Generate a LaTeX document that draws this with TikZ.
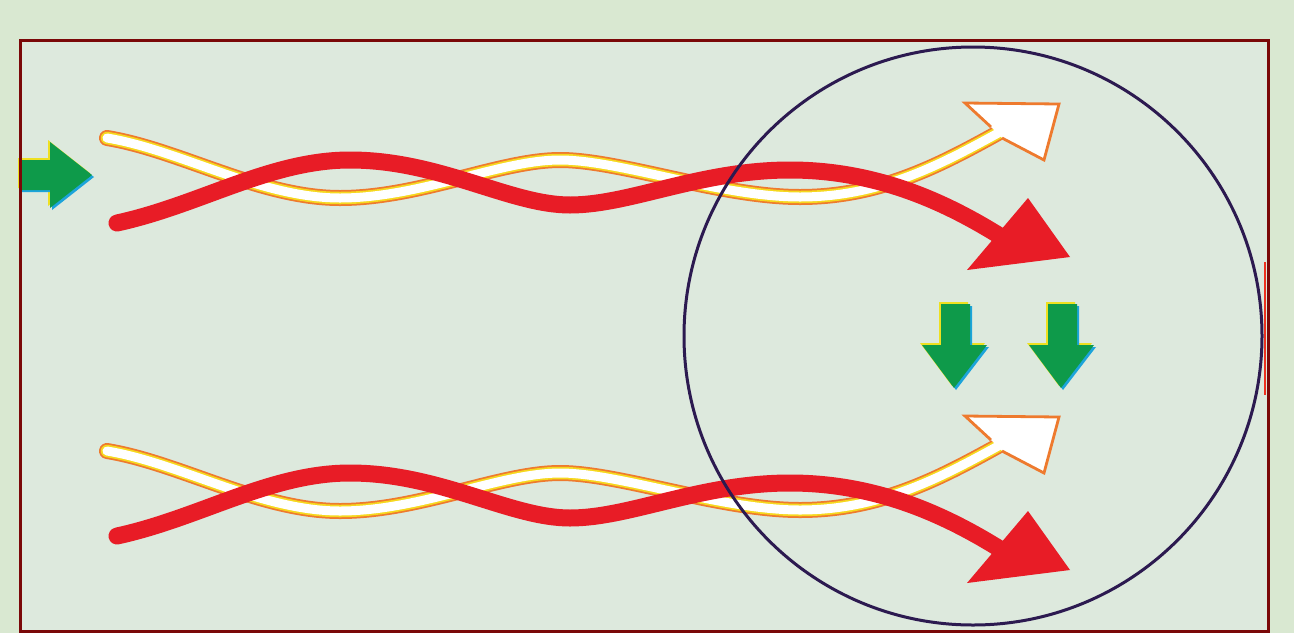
\documentclass[tikz,border=0pt]{standalone}
\usetikzlibrary{calc}
\definecolor{bgout}{HTML}{D9E8D1}
\definecolor{bgin}{HTML}{DDE9DD}
\definecolor{framec}{HTML}{7A0808}
\definecolor{redc}{HTML}{E81C26}
\definecolor{orangec}{HTML}{EE7A2E}
\definecolor{yellowc}{HTML}{F6D81E}
\definecolor{greenc}{HTML}{0E9A4A}
\definecolor{bluec}{HTML}{1CA4DA}
\definecolor{gyellow}{HTML}{EEE020}
\definecolor{circc}{HTML}{2C1A50}
\tikzset{
  redband/.style={draw=redc, line width=17pt, line cap=round, line join=round},
  whiteouter/.style={draw=orangec, line width=16pt, line join=round},
  whitemid/.style={draw=yellowc, line width=12.5pt, line join=round},
  whiteinner/.style={draw=white, line width=9pt, line join=round},
  headoutline/.style={draw=orangec, line width=2.8pt, line join=miter},
}
\newcommand\greenarrow[1]{%
  \fill[gyellow,shift={(-2,-2)}] #1;
  \fill[bluec,shift={(2,2)}] #1;
  \fill[greenc] #1;}
\newcommand\whitepath[1]{(107,138) .. controls (180,150) and (260,198) .. (340,198) .. controls (420,198) and (500,160) .. (560,160) .. controls (620,160) and (720,197) .. (800,197) .. controls (880,197) and (940,165) .. #1}
\newcommand\helixpair{%
  % white hollow arrow
  \draw[whiteouter, line cap=round] \whitepath{(998,133)};
  \draw[whitemid, line cap=round] \whitepath{(998,133)};
  \fill[white] (991,127) -- (965,103) -- (1059,104) -- (1044,160) -- (1002,138) -- cycle;
  \draw[headoutline] (991,127) -- (965,103) -- (1059,104) -- (1044,160) -- (1002,138);
  \draw[whiteinner, line cap=round] \whitepath{(1000,132)};
  % red arrow
  \draw[redband] (117,223) .. controls (200,205) and (270,160) .. (350,160) .. controls (440,160) and (510,205) .. (570,205) .. controls (630,205) and (700,170) .. (790,170) .. controls (880,170) and (950,205) .. (1000,236);
  \fill[redc] (1028,198) -- (1070,257) -- (967,270) -- cycle;
}
\begin{document}
\begin{tikzpicture}[x=1pt,y=-1pt]
\useasboundingbox (0,0) rectangle (1294,633);
\fill[bgout] (0,0) rectangle (1294,633);
\fill[bgin] (20,40) rectangle (1268,631);
% helices
\begin{scope}
  \helixpair
\end{scope}
\begin{scope}[yshift=-313pt]
  \helixpair
\end{scope}
% green arrows
\greenarrow{(20,160) -- (50,160) -- (50,142) -- (92,175) -- (50,208) -- (50,190) -- (20,190) -- cycle}
\greenarrow{(941,304) -- (970,304) -- (970,345) -- (987,345) -- (954,388) -- (922,345) -- (941,345) -- cycle}
\greenarrow{(1048,304) -- (1077,304) -- (1077,345) -- (1094,345) -- (1061,388) -- (1029,345) -- (1048,345) -- cycle}
% circle
\node[draw=circc, line width=3pt, circle, minimum size=578pt, inner sep=0pt] (zone) at (973,336) {};
% frame
\draw[framec, line width=3pt] (20,40) rectangle (1268,631);
\draw[redc!80!orange, line width=2pt] (1265,262) -- (1265,395);
\end{tikzpicture}
\end{document}
